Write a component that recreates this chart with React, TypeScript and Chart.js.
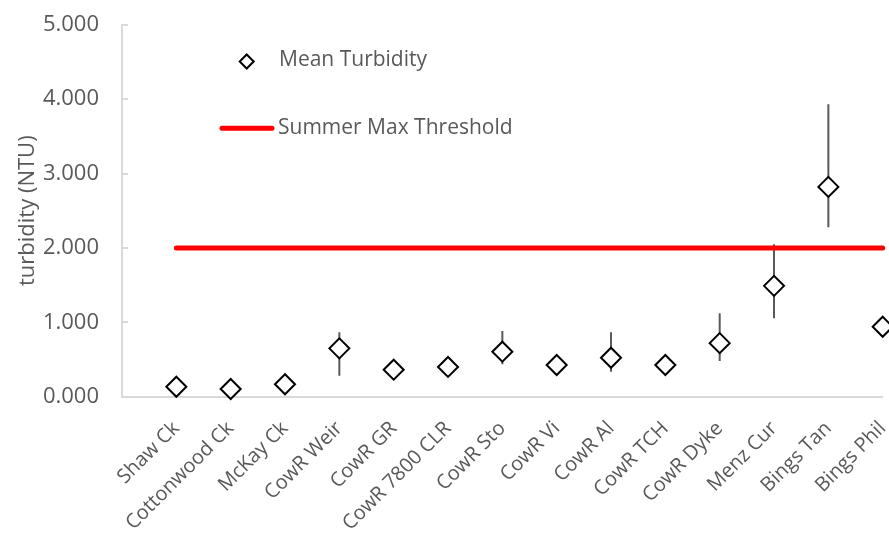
import React, { useEffect, useRef } from "react";
import { Chart, registerables } from "chart.js";

Chart.register(...registerables);

// Sampling sites along the creek / river, left to right
const sites = [
  "Shaw Ck",
  "Cottonwood Ck",
  "McKay Ck",
  "CowR Weir",
  "CowR GR",
  "CowR 7800 CLR",
  "CowR Sto",
  "CowR Vi",
  "CowR Al",
  "CowR TCH",
  "CowR Dyke",
  "Menz Cur",
  "Bings Tan",
  "Bings Phil",
];

// Mean turbidity per site (NTU)
const meanTurbidity = [0.134, 0.103, 0.167, 0.65, 0.363, 0.4, 0.605, 0.426, 0.524, 0.426, 0.72, 1.49, 2.82, 0.94];

// Error bar extents (null where no bar is shown)
const errLow = [null, null, null, 0.28, null, null, 0.435, null, 0.336, null, 0.48, 1.054, 2.277, null];
const errHigh = [null, null, null, 0.866, null, null, 0.883, null, 0.866, null, 1.12, 2.05, 3.93, null];

// Summer maximum threshold (NTU)
const summerMax = 2.0;

const yTicks = [0, 1, 2, 3, 4, 5];

const FONT = "'Open Sans', sans-serif";
const TEXT = "#595959";
const AXIS = "#d9d9d9";

// Fixed plot-area box inside the 889x534 canvas
const PLOT = { left: 122, right: 882.7, top: 24.7, bottom: 396.7 };

const legendPlugin = {
  id: "insideLegend",
  afterDraw(chart: any) {
    const ctx = chart.ctx;
    ctx.save();
    // diamond marker
    const cx = 246.7;
    const cy = 61.5;
    const r = 7;
    ctx.beginPath();
    ctx.moveTo(cx, cy - r);
    ctx.lineTo(cx + r, cy);
    ctx.lineTo(cx, cy + r);
    ctx.lineTo(cx - r, cy);
    ctx.closePath();
    ctx.fillStyle = "#ffffff";
    ctx.fill();
    ctx.lineWidth = 2;
    ctx.strokeStyle = "#000000";
    ctx.stroke();
    // threshold line
    ctx.beginPath();
    ctx.moveTo(222, 128.3);
    ctx.lineTo(272, 128.3);
    ctx.lineWidth = 5;
    ctx.lineCap = "round";
    ctx.strokeStyle = "#ff0000";
    ctx.stroke();
    ctx.fillStyle = TEXT;
    ctx.font = `21px ${FONT}`;
    ctx.textBaseline = "middle";
    ctx.textAlign = "left";
    ctx.fillText("Mean Turbidity", 279, 60.5);
    ctx.fillText("Summer Max Threshold", 278, 128);
    ctx.restore();
  },
};

export default function App() {
  const canvasRef = useRef<HTMLCanvasElement>(null);

  useEffect(() => {
    if (!canvasRef.current) return;

    const meanPoints = meanTurbidity.map((v, i) => ({ x: i + 1, y: v }));

    const errPoints: { x: number; y: number | null }[] = [];
    errLow.forEach((lo, i) => {
      const hi = errHigh[i];
      if (lo === null || hi === null) return;
      errPoints.push({ x: i + 1, y: lo });
      errPoints.push({ x: i + 1, y: hi });
      errPoints.push({ x: i + 1, y: null });
    });

    const chart = new Chart(canvasRef.current, {
      type: "line",
      data: {
        datasets: [
          {
            label: "Mean Turbidity",
            data: meanPoints,
            showLine: false,
            pointStyle: "rectRot",
            pointRadius: 10,
            pointBorderWidth: 2,
            pointBorderColor: "#000000",
            pointBackgroundColor: "#ffffff",
            clip: false as any,
            order: 0,
          },
          {
            label: "Summer Max Threshold",
            data: [
              { x: 1, y: summerMax },
              { x: sites.length, y: summerMax },
            ],
            borderColor: "#ff0000",
            borderWidth: 5,
            borderCapStyle: "round",
            pointRadius: 0,
            clip: false as any,
            order: 1,
          },
          {
            label: "range",
            data: errPoints as any,
            borderColor: "#595959",
            borderWidth: 2,
            pointRadius: 0,
            spanGaps: false,
            order: 2,
          },
        ],
      },
      options: {
        responsive: false,
        animation: false,
        layout: {
          autoPadding: false,
          padding: { top: PLOT.top, right: 889 - PLOT.right, left: 0, bottom: 0 },
        },
        plugins: {
          legend: { display: false },
          tooltip: { enabled: false },
        },
        scales: {
          x: {
            type: "linear",
            min: 0,
            max: sites.length,
            afterFit(scale: any) {
              scale.height = 534 - PLOT.bottom;
              scale.paddingLeft = 0;
              scale.paddingRight = 0;
            },
            afterBuildTicks(scale: any) {
              scale.ticks = sites.map((_, i) => ({ value: i + 1 }));
            },
            grid: { display: false, drawTicks: false },
            border: { color: AXIS, width: 2 },
            ticks: {
              autoSkip: false,
              maxRotation: 45,
              minRotation: 45,
              padding: 20,
              color: TEXT,
              font: { family: FONT, size: 20 },
              callback: (v: any) => sites[Math.round(v) - 1] ?? "",
            },
          },
          y: {
            min: 0,
            max: 5,
            afterFit(scale: any) {
              scale.width = PLOT.left;
              scale.paddingTop = 0;
              scale.paddingBottom = 0;
            },
            afterBuildTicks(scale: any) {
              scale.ticks = yTicks.map((v) => ({ value: v }));
            },
            grid: {
              drawOnChartArea: false,
              drawTicks: true,
              tickLength: -6,
              color: AXIS,
              lineWidth: 2,
            },
            border: { color: AXIS, width: 2 },
            ticks: {
              padding: 29,
              color: TEXT,
              font: { family: FONT, size: 22 },
              callback: (v: any) => Number(v).toFixed(3),
            },
            title: {
              display: true,
              text: "turbidity (NTU)",
              color: TEXT,
              font: { family: FONT, size: 22 },
              padding: { top: 15, bottom: 0 },
            },
          },
        },
      },
      plugins: [legendPlugin],
    });

    return () => chart.destroy();
  }, []);

  return (
    <div style={{ position: "fixed", left: 0, top: 0, width: 889, height: 534, background: "#ffffff" }}>
      <canvas ref={canvasRef} width={889} height={534} />
    </div>
  );
}
